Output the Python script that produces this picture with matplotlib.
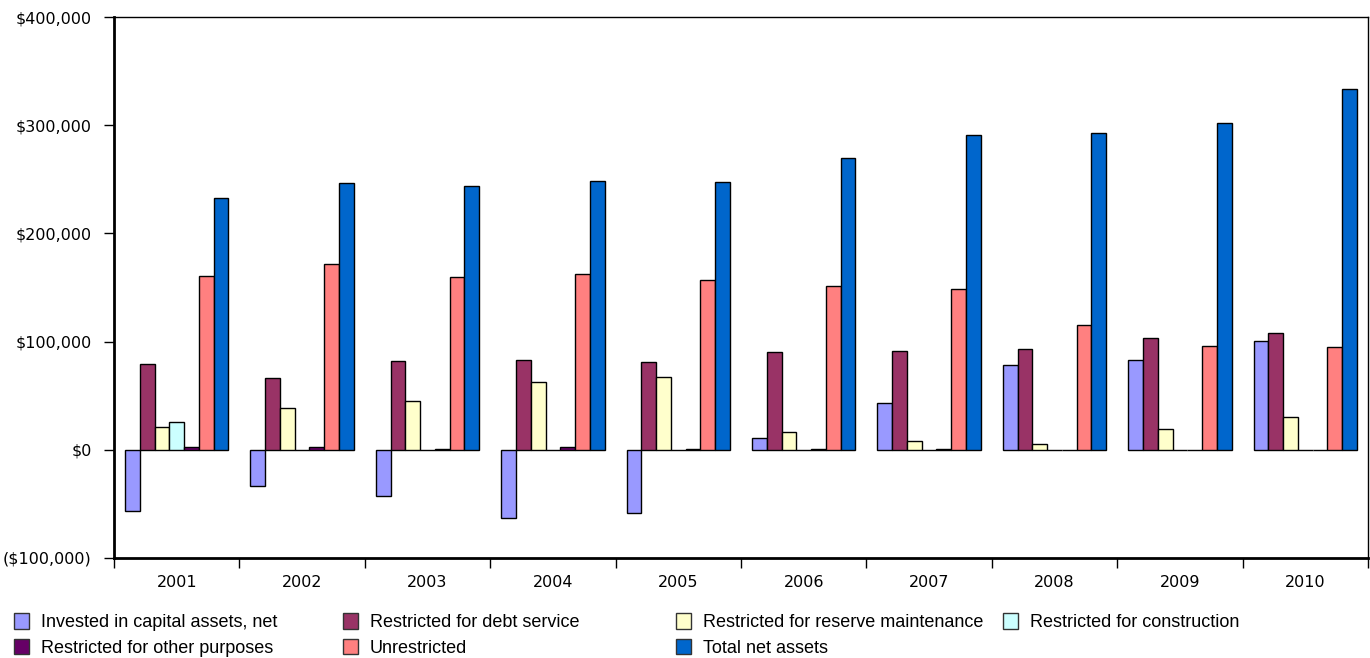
import numpy as np
import matplotlib.pyplot as plt
from matplotlib.patches import Patch
from matplotlib.ticker import FuncFormatter, MultipleLocator

years = ["2001", "2002", "2003", "2004", "2005", "2006", "2007", "2008", "2009", "2010"]

invested = [-57000, -33500, -43000, -63000, -58500, 10500, 43000, 78800, 83400, 100700]
debt_service = [79000, 66500, 82000, 83000, 81000, 90500, 91000, 93300, 103700, 107500]
reserve_maint = [21000, 39000, 45000, 63000, 67000, 16500, 8000, 5800, 18800, 30000]
construction = [26000, 0, 0, 0, 0, 0, 0, 0, 0, 0]
other_purposes = [3000, 3000, 1000, 3000, 1000, 1000, 1000, 0, 0, 0]
unrestricted = [161000, 171800, 159800, 162900, 156700, 151200, 148400, 115500, 96300, 94800]
total_net = [232800, 246400, 244200, 248800, 247300, 269400, 291000, 292500, 301800, 333200]

series = [
    ("Invested in capital assets, net", invested, "#9999FF"),
    ("Restricted for debt service", debt_service, "#993366"),
    ("Restricted for reserve maintenance", reserve_maint, "#FFFFCC"),
    ("Restricted for construction", construction, "#CCFFFF"),
    ("Restricted for other purposes", other_purposes, "#660066"),
    ("Unrestricted", unrestricted, "#FF8080"),
    ("Total net assets", total_net, "#0066CC"),
]

fig = plt.figure(figsize=(13.7, 6.58), dpi=100)
ax = fig.add_axes([114 / 1370, 1 - 558 / 658, 1254 / 1370, 541 / 658])

x = np.arange(len(years))
w = 0.118
for i, (name, vals, col) in enumerate(series):
    ax.bar(x + (i - 3) * w, vals, w, color=col, edgecolor="black", linewidth=1.0, label=name)


def money(v, pos):
    if v < 0:
        return "(${:,.0f})".format(-v)
    return "${:,.0f}".format(v)


ax.set_ylim(-100000, 400000)
ax.yaxis.set_major_locator(MultipleLocator(100000))
ax.yaxis.set_major_formatter(FuncFormatter(money))
ax.set_xlim(-0.5, len(years) - 0.5)
ax.set_xticks(x)
ax.set_xticklabels(years)
ax.set_xticks(np.arange(len(years) + 1) - 0.5, minor=True)

ax.tick_params(axis="x", which="major", length=0, pad=12, labelsize=11.5)
ax.tick_params(axis="x", which="minor", length=7, width=1, direction="out")
ax.tick_params(axis="y", length=7, width=1, direction="out", pad=9, labelsize=11.5)

for s in ["left", "bottom"]:
    ax.spines[s].set_linewidth(2)
for s in ["top", "right"]:
    ax.spines[s].set_linewidth(1)

# legend laid out as four separate columns under the plot
cols = [[0, 4], [1, 5], [2, 6], [3]]
col_x = [14, 343, 676, 1003]
for idx, cx in zip(cols, col_x):
    handles = [Patch(facecolor=series[k][2], edgecolor="#333333", linewidth=1) for k in idx]
    labels = [series[k][0] for k in idx]
    fig.legend(handles, labels, loc="upper left", bbox_to_anchor=(cx / 1370, 1 - 613 / 658),
               frameon=False, prop={"family": "Liberation Sans", "size": 13},
               handlelength=0.85, handleheight=0.95, handletextpad=0.65,
               labelspacing=0.42, borderpad=0, borderaxespad=0)

fig.savefig("out.png", dpi=100)
